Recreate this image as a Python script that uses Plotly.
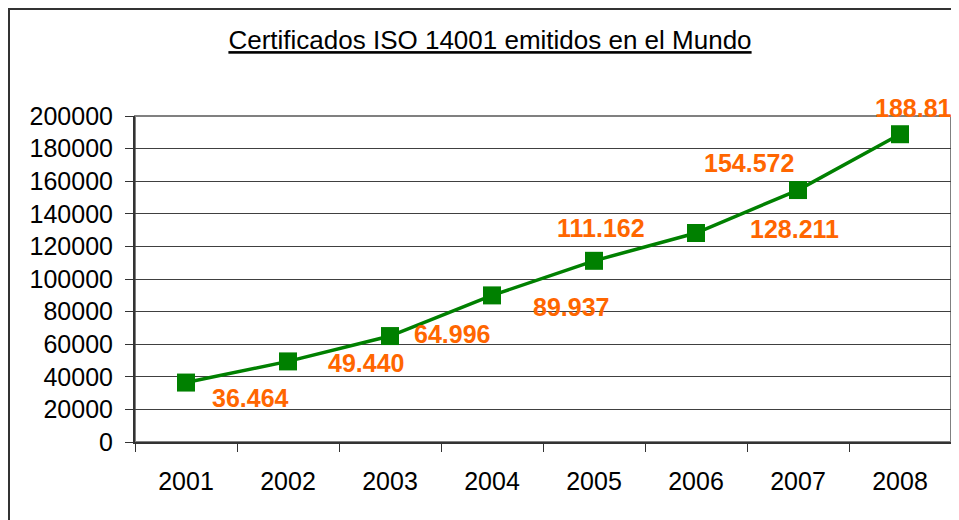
import plotly.graph_objects as go

years = ["2001", "2002", "2003", "2004", "2005", "2006", "2007", "2008"]
values = [36464, 49440, 64996, 89937, 111162, 128211, 154572, 188815]
labels = ["36.464", "49.440", "64.996", "89.937", "111.162", "128.211", "154.572", "188.815"]
# manual label offsets (pixels), as placed in the original chart
label_dx = [64, 78, 62, 79, 7, 98, -49, 20]
label_dy = [-15, -2, 2, -12, 33, 4, 27, 26]

FONT = "Liberation Sans, Arial, sans-serif"

W, H = 951, 512
ML, MR, MT, MB = 127, 8, 108, 78
PW, PH = W - ML - MR, H - MT - MB

fig = go.Figure()
fig.add_trace(go.Scatter(
    x=years, y=values, mode="lines+markers",
    line=dict(color="#008000", width=3.5),
    marker=dict(symbol="square", size=18, color="#008000"),
    showlegend=False, cliponaxis=False,
))

for i, (y, t, dx, dy) in enumerate(zip(values, labels, label_dx, label_dy)):
    fig.add_annotation(x=i, y=y, xref="x", yref="y", text="<b>" + t + "</b>",
                       showarrow=False, xshift=dx, yshift=dy,
                       font=dict(family=FONT, size=25, color="#FF6600"))

# outer chart border
fig.add_shape(type="rect", xref="paper", yref="paper",
              x0=(1 - ML) / PW, x1=1.3, y0=-1, y1=(H - MB - 1) / PH,
              line=dict(color="#333333", width=2), layer="below")
# plot area border
fig.add_shape(type="rect", xref="paper", yref="paper", x0=0, x1=1, y0=0, y1=1,
              line=dict(color="#808080", width=2), layer="below")

fig.update_layout(
    width=W, height=H,
    margin=dict(l=ML, r=MR, t=MT, b=MB),
    paper_bgcolor="white", plot_bgcolor="white",
    font=dict(family=FONT, size=25, color="black"),
    title=dict(text="<u>Certificados ISO 14001 emitidos en el Mundo</u>",
               x=482 / W, xref="container", xanchor="center",
               y=1 - 32 / H, yref="container", yanchor="middle",
               font=dict(family=FONT, size=26, color="black")),
)
fig.update_xaxes(
    type="category", tickson="boundaries", ticks="outside", ticklen=8, tickcolor="#333333",
    tickwidth=1, showgrid=False, showline=True, linecolor="#333333", linewidth=2,
    ticklabelstandoff=16, tickfont=dict(size=25), range=[-0.5, 7.5],
)
fig.update_yaxes(
    range=[0, 200000], tickvals=list(range(0, 200001, 20000)),
    ticks="outside", ticklen=8, tickcolor="#333333", tickwidth=1,
    showgrid=True, gridcolor="#404040", gridwidth=1, zeroline=False,
    showline=True, linecolor="#333333", linewidth=2,
    ticklabelstandoff=7, tickfont=dict(size=25), tickformat="d",
)

fig.write_html("out.html")
